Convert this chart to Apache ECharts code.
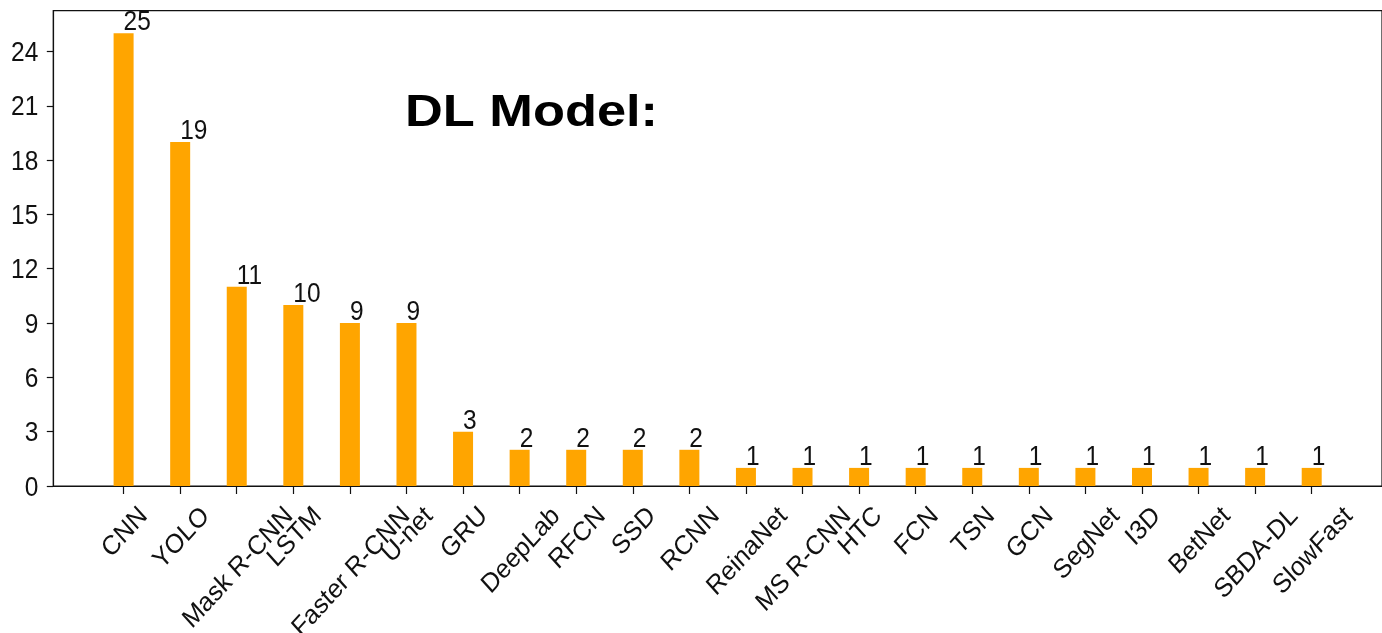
<!DOCTYPE html>
<html>
<head>
<meta charset="utf-8">
<script src="https://cdn.jsdelivr.net/npm/echarts@6/dist/echarts.min.js"></script>
<style>
html,body{margin:0;padding:0;background:#fff;}
#chart{width:1382px;height:633px;}
</style>
</head>
<body>
<div id="chart"></div>
<script>
const categories = ['CNN','YOLO','Mask R-CNN','LSTM','Faster R-CNN','U-net','GRU','DeepLab','RFCN','SSD','RCNN','ReinaNet','MS R-CNN','HTC','FCN','TSN','GCN','SegNet','I3D','BetNet','SBDA-DL','SlowFast'];
const counts = [25,19,11,10,9,9,3,2,2,2,2,1,1,1,1,1,1,1,1,1,1,1];
const yTicks = [0,3,6,9,12,15,18,21,24];
const overlayText = 'DL Model:';

const REG = '"Liberation Sans",Arial,Helvetica,sans-serif';
const F = 24.5, K = 1.1;           // font size and vertical stretch of the picture
const FONT = F + 'px ' + REG;
const INK = 0.08 * F;              // ink centre sits slightly above em middle
const X_MIN = -1.2425, X_MAX = 22.2425, Y_MAX = 26.25;
const mctx = document.createElement('canvas').getContext('2d');
mctx.font = FONT;

function stretched(x, y, text, align, rot) {
  return {
    type: 'group', x: x, y: y, scaleY: K,
    children: [{
      type: 'text', rotation: rot || 0,
      style: {text: text, font: FONT, fill: '#111', align: align, verticalAlign: 'middle'}
    }]
  };
}

const chart = echarts.init(document.getElementById('chart'));
chart.setOption({
  animation: false,
  backgroundColor: '#fff',
  grid: {left: 53.3, top: 10.7, right: -5, bottom: 147, show: true, borderColor: '#111', borderWidth: 1.2},
  xAxis: {
    type: 'value', min: X_MIN, max: X_MAX,
    axisLine: {show: true, onZero: false, lineStyle: {color: '#111', width: 1.2}},
    axisTick: {show: true, length: 8, lineStyle: {color: '#111', width: 1.2}, customValues: categories.map((c, i) => i)},
    axisLabel: {show: false},
    splitLine: {show: false}
  },
  yAxis: {
    type: 'value', min: 0, max: Y_MAX,
    axisLine: {show: true, onZero: false, lineStyle: {color: '#111', width: 1.2}},
    axisTick: {show: true, length: 6.5, lineStyle: {color: '#111', width: 1.2}, customValues: yTicks},
    axisLabel: {show: false},
    splitLine: {show: false}
  },
  graphic: [{
    type: 'text', x: 405, y: 114, scaleX: 1.19,
    style: {text: overlayText, font: 'bold 44px ' + REG, fill: '#000', align: 'left', verticalAlign: 'middle'}
  }],
  series: [{
    type: 'bar',
    data: counts.map((v, i) => [i, v]),
    barWidth: 20,
    itemStyle: {color: '#FFA500'}
  }, {
    // value labels above bars
    type: 'custom', coordinateSystem: 'cartesian2d', clip: false, silent: true,
    data: counts.map((v, i) => [i, v]),
    encode: {x: 0, y: 1},
    renderItem: function (params, api) {
      const p = api.coord([api.value(0), api.value(1)]);
      const yc = p[1] - 3 - 0.716 * F * K / 2 + INK * K;
      return stretched(p[0], yc, String(api.value(1)), 'left');
    }
  }, {
    // y tick labels
    type: 'custom', coordinateSystem: 'cartesian2d', clip: false, silent: true,
    data: yTicks.map(v => [X_MIN, v]),
    encode: {x: 0, y: 1},
    renderItem: function (params, api) {
      const p = api.coord([api.value(0), api.value(1)]);
      return stretched(p[0] - 15, p[1] + INK * K, String(api.value(1)), 'right');
    }
  }, {
    // x category labels, rotated 45 degrees, box centred under the tick
    type: 'custom', coordinateSystem: 'cartesian2d', clip: false, silent: true,
    data: categories.map((c, i) => [i, 0]),
    encode: {x: 0, y: 1},
    renderItem: function (params, api) {
      const idx = api.value(0);
      const p = api.coord([idx, 0]);
      const t = categories[idx];
      const w = mctx.measureText(t).width;
      const yc = p[1] + 17.5 + K * (w + 0.716 * F) * 0.3536 + INK * 0.707 * K;
      return stretched(p[0] + INK * 0.707, yc, t, 'center', Math.PI / 4);
    }
  }]
});
</script>
</body>
</html>
